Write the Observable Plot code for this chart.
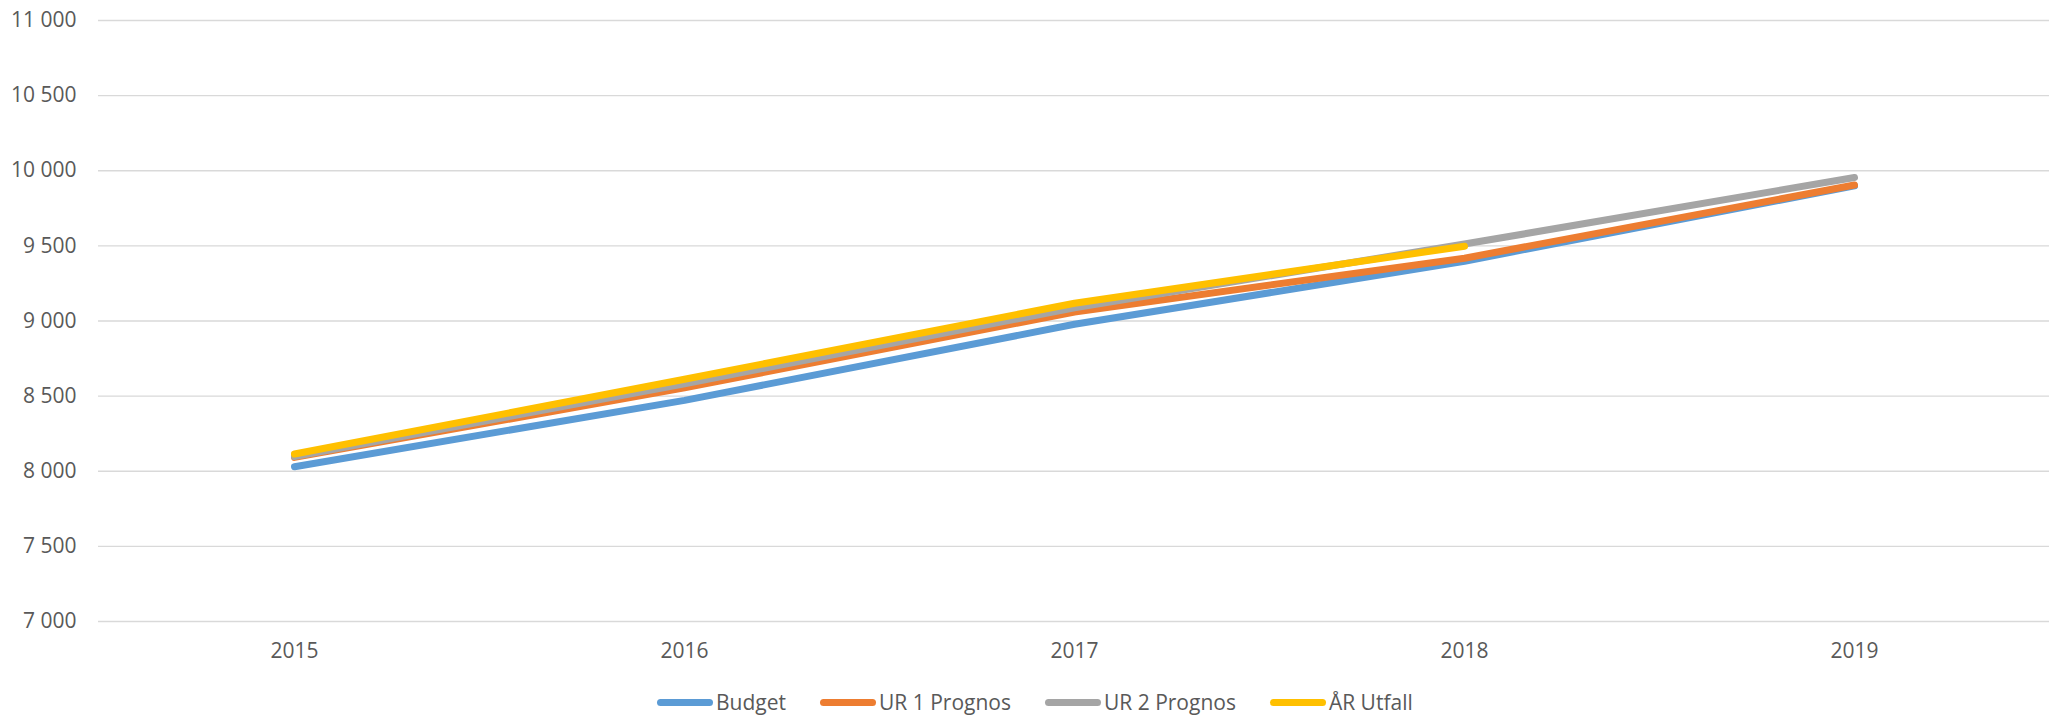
<!DOCTYPE html>
<html>
<head>
<meta charset="utf-8">
<script src="https://cdn.jsdelivr.net/npm/d3@7"></script>
<script src="https://cdn.jsdelivr.net/npm/@observablehq/plot@0.6"></script>
<style>
  html, body { margin: 0; padding: 0; background: #fff; }
  #wrap { position: relative; width: 2053px; height: 717px; }
  #legend { position: absolute; left: 657px; top: 688px; display: flex; align-items: center;
    font-family: "Open Sans", sans-serif; font-size: 21px; color: #595959; }
  .item { display: flex; align-items: center; margin-right: 34px; }
  .sw { width: 56px; height: 7px; border-radius: 3.5px; margin-right: 3px; }
</style>
</head>
<body>
<div id="wrap">
  <div id="chart"></div>
  <div id="legend"></div>
</div>
<script>
const years = ["2015", "2016", "2017", "2018", "2019"];
const seriesNames = ["Budget", "UR 1 Prognos", "UR 2 Prognos", "ÅR Utfall"];
const seriesColors = ["#5B9BD5", "#ED7D31", "#A5A5A5", "#FFC000"];
const budget = [8030, 8472, 8978, 9398, 9900];
const ur1Prognos = [8092, 8555, 9060, 9418, 9905];
const ur2Prognos = [8098, 8582, 9088, 9512, 9955];
const arUtfall = [8115, 8612, 9118, 9498, null];
const yTicks = [7000, 7500, 8000, 8500, 9000, 9500, 10000, 10500, 11000];

const seriesValues = [budget, ur1Prognos, ur2Prognos, arUtfall];
const data = [];
seriesNames.forEach((name, i) => {
  years.forEach((yr, j) => {
    const v = seriesValues[i][j];
    if (v != null) data.push({series: name, year: yr, value: v});
  });
});

const fmt = v => d3.format(",")(v).replace(/,/g, " ");

const chart = Plot.plot({
  width: 2053,
  height: 684,
  marginLeft: 98,
  marginRight: 4,
  marginTop: 20,
  marginBottom: 63,
  style: { fontFamily: "'Open Sans', sans-serif", fontSize: "21px", color: "#595959", background: "#fff" },
  x: { type: "point", domain: years, padding: 0.5, label: null },
  y: { domain: [7000, 11000], label: null },
  color: { domain: seriesNames, range: seriesColors },
  marks: [
    Plot.gridY(yTicks, { stroke: "#d9d9d9", strokeOpacity: 1, strokeWidth: 1.3 }),
    Plot.axisY(yTicks, { tickSize: 0, tickPadding: 22, tickFormat: fmt, label: null, fill: "#595959" }),
    Plot.axisX({ tickSize: 0, tickPadding: 22, label: null, fill: "#595959" }),
    Plot.line(data, { x: "year", y: "value", z: "series", stroke: "series",
      strokeWidth: 7, strokeLinecap: "round", strokeLinejoin: "round" })
  ]
});
document.getElementById("chart").appendChild(chart);

const legend = document.getElementById("legend");
seriesNames.forEach((name, i) => {
  const item = document.createElement("div");
  item.className = "item";
  const sw = document.createElement("div");
  sw.className = "sw";
  sw.style.background = seriesColors[i];
  const t = document.createElement("span");
  t.textContent = name;
  item.appendChild(sw);
  item.appendChild(t);
  legend.appendChild(item);
});
</script>
</body>
</html>
